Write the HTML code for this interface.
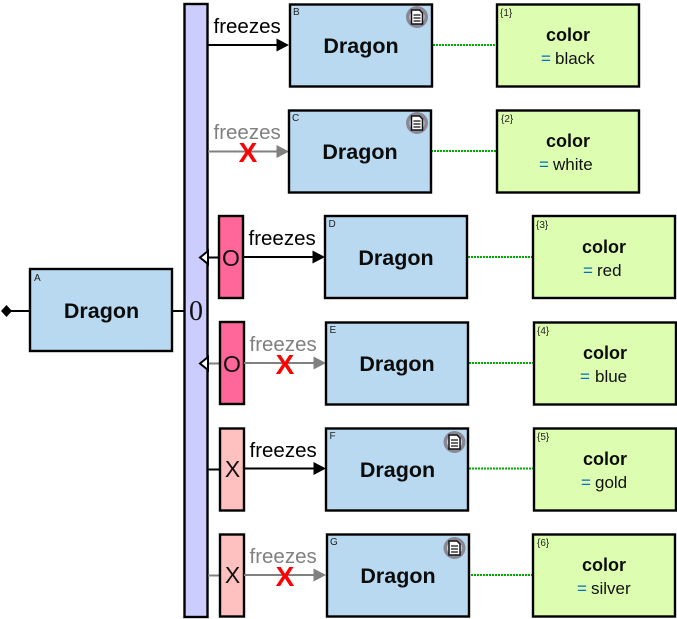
<!DOCTYPE html>
<html><head><meta charset="utf-8"><style>
html,body{margin:0;padding:0;background:#fff;width:677px;height:619px;overflow:hidden}
svg{display:block}
text{font-family:"Liberation Sans",sans-serif}
.d{font-size:21.500px;font-weight:bold;text-anchor:middle;fill:#0c0c0c}
.c{font-size:18px;font-weight:bold;text-anchor:middle;fill:#0c0c0c}
.v{font-size:17px;fill:#111}
.e{font-size:17px;fill:#0070c0}
.s{font-size:10px;fill:#222}
.f{font-size:20.500px}
.b{fill:#b8d9f0;stroke:#000;stroke-width:2.400}
.g{fill:#ddfeb0;stroke:#000;stroke-width:2.400}
.x{font-size:28px;font-weight:bold;fill:#f00;text-anchor:middle}
.m{font-size:23px;text-anchor:middle;fill:#111}
</style></head><body>
<svg width="677" height="619" viewBox="0 0 677 619" xmlns="http://www.w3.org/2000/svg">
<defs>
<g id="ic"><circle cx="0" cy="0" r="11" fill="#8a8894"/><circle cx="0" cy="0" r="7.500" fill="#c6d3e2"/><path d="M-5.500-7H2.500L5.500-4V7H-5.500Z" fill="#fff" stroke="#111" stroke-width="1.500"/><path d="M-3.500-2H3.500M-3.500 1H3.500M-3.500 4H3.500" stroke="#111" stroke-width="1.300"/></g>
</defs>

<path d="M6 311H30M172 311H184" stroke="#000" stroke-width="2" fill="none"/>
<path d="M1 311L6.500 305L12 311L6.500 317Z" fill="#000"/>

<rect x="184.500" y="4" width="23" height="613" fill="#ccccff" stroke="#000" stroke-width="2.400"/>
<text x="196" y="320" style="font-family:'Liberation Serif',serif;font-size:28px;text-anchor:middle" fill="#111">0</text>

<path d="M208 45H279" stroke="#000" stroke-width="2"/><path d="M276.500 38.500L289 45L276.500 51.500Z" fill="#000"/>
<text x="213.500" y="33" class="f" fill="#000">freezes</text>
<path d="M208 151.500H279" stroke="#808080" stroke-width="2"/><path d="M276.500 145L289 151.500L276.500 158Z" fill="#808080"/>
<text x="213.500" y="139" class="f" fill="#808080">freezes</text>
<text x="248" y="162" class="x">X</text>

<path d="M208 257.500H219" stroke="#000" stroke-width="2"/>
<path d="M208 251L200 257.500L208 264Z" fill="#fff" stroke="#000" stroke-width="2"/>
<rect x="219" y="216" width="24" height="82" fill="#ff6699" stroke="#000" stroke-width="2.400"/>
<text x="231" y="266" class="m">O</text>
<path d="M243 257H315" stroke="#000" stroke-width="2"/><path d="M312.500 250.500L325 257L312.500 263.500Z" fill="#000"/>
<text x="248.500" y="245" class="f" fill="#000">freezes</text>

<path d="M208 363.500H220" stroke="#808080" stroke-width="2"/>
<path d="M208 357L200 363.500L208 370Z" fill="#fff" stroke="#000" stroke-width="2"/>
<rect x="220" y="322" width="24" height="82" fill="#ff6699" stroke="#000" stroke-width="2.400"/>
<text x="232" y="372" class="m">O</text>
<path d="M244 363H316" stroke="#808080" stroke-width="2"/><path d="M313.500 356.500L326 363L313.500 369.500Z" fill="#808080"/>
<text x="249.500" y="351" class="f" fill="#808080">freezes</text>
<text x="285" y="374" class="x">X</text>

<path d="M208 469.500H220" stroke="#000" stroke-width="2"/>
<rect x="220" y="428.500" width="24" height="82" fill="#ffc0c0" stroke="#000" stroke-width="2.400"/>
<text x="232.500" y="477" class="m">X</text>
<path d="M244 468.500H316" stroke="#000" stroke-width="2"/><path d="M313.500 462L326 468.500L313.500 475Z" fill="#000"/>
<text x="249.500" y="457" class="f" fill="#000">freezes</text>

<path d="M208 575.500H220" stroke="#808080" stroke-width="2"/>
<rect x="220" y="534.500" width="24" height="82" fill="#ffc0c0" stroke="#000" stroke-width="2.400"/>
<text x="232.500" y="583" class="m">X</text>
<path d="M244 575H316" stroke="#808080" stroke-width="2"/><path d="M313.500 568.500L326 575L313.500 581.500Z" fill="#808080"/>
<text x="249.500" y="563" class="f" fill="#808080">freezes</text>
<text x="285" y="586" class="x">X</text>

<g stroke="#00aa00" stroke-width="2" stroke-dasharray="2 1" fill="none">
<path d="M433 45H496M431 151H496M468 257H532M469 363H533M469 468.500H533M471 575H532"/>
</g>

<rect class="b" x="30" y="269" width="142" height="82"/>
<text class="s" x="34" y="281">A</text><text class="d" x="101.500" y="318">Dragon</text>

<rect class="b" x="290" y="4.500" width="142" height="82"/>
<text class="s" x="293" y="15">B</text><text class="d" x="361" y="53">Dragon</text>
<use href="#ic" x="417" y="17"/>

<rect class="b" x="289" y="110.500" width="142" height="82"/>
<text class="s" x="292" y="121">C</text><text class="d" x="360" y="159">Dragon</text>
<use href="#ic" x="417" y="123"/>

<rect class="b" x="325" y="216" width="142" height="82"/>
<text class="s" x="328.500" y="227">D</text><text class="d" x="396" y="265">Dragon</text>

<rect class="b" x="326" y="322.500" width="142" height="82"/>
<text class="s" x="329.500" y="333">E</text><text class="d" x="397" y="371">Dragon</text>

<rect class="b" x="326" y="428.500" width="142" height="82"/>
<text class="s" x="329.500" y="439">F</text><text class="d" x="397.500" y="477">Dragon</text>
<use href="#ic" x="454.500" y="442"/>

<rect class="b" x="327" y="534.500" width="142" height="82"/>
<text class="s" x="330" y="545">G</text><text class="d" x="398" y="583">Dragon</text>
<use href="#ic" x="454.500" y="548"/>

<rect class="g" x="497" y="4.500" width="142" height="82"/>
<text class="s" x="500" y="16">{1}</text><text class="c" x="568" y="41">color</text>
<text class="e" x="541" y="64">=</text><text class="v" x="555" y="64">black</text>

<rect class="g" x="497" y="110.500" width="142" height="82"/>
<text class="s" x="501" y="122">{2}</text><text class="c" x="568" y="147">color</text>
<text class="e" x="539" y="170">=</text><text class="v" x="553" y="170">white</text>

<rect class="g" x="533" y="216" width="142" height="82"/>
<text class="s" x="536" y="228">{3}</text><text class="c" x="604" y="253">color</text>
<text class="e" x="583" y="276">=</text><text class="v" x="597" y="276">red</text>

<rect class="g" x="534" y="322.500" width="142" height="82"/>
<text class="s" x="537" y="334">{4}</text><text class="c" x="605" y="359">color</text>
<text class="e" x="580" y="382">=</text><text class="v" x="595" y="382">blue</text>

<rect class="g" x="534" y="428.500" width="142" height="82"/>
<text class="s" x="537" y="440">{5}</text><text class="c" x="605" y="465">color</text>
<text class="e" x="581" y="488">=</text><text class="v" x="595" y="488">gold</text>

<rect class="g" x="533" y="534.500" width="142" height="82"/>
<text class="s" x="537" y="546">{6}</text><text class="c" x="604" y="571">color</text>
<text class="e" x="577" y="594">=</text><text class="v" x="591" y="594">silver</text>
</svg>
</body></html>
